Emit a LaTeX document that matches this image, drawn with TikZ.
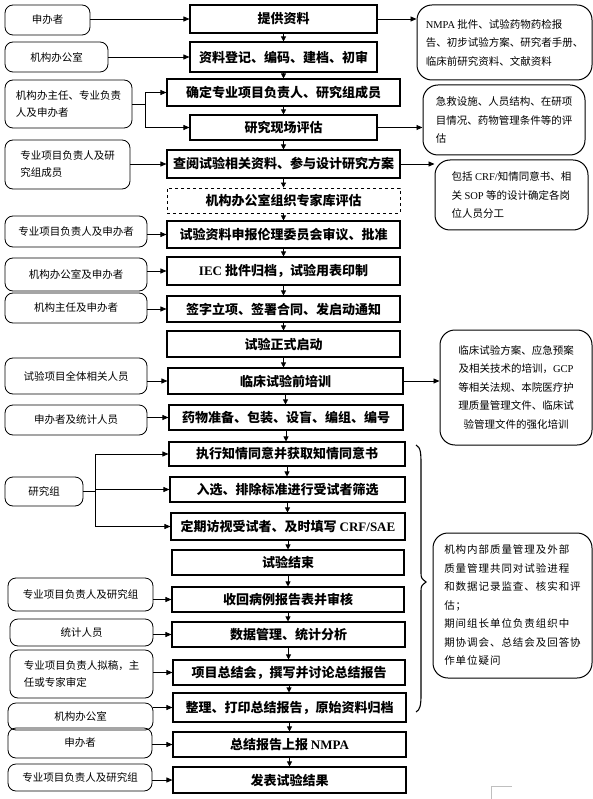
\documentclass[tikz,border=0pt]{standalone}
\usepackage{fontspec}
\setmainfont{Noto Sans CJK SC}
\newfontfamily\lat{Liberation Serif}
\newfontfamily\spaced[LetterSpace=9]{Noto Sans CJK SC}
\usetikzlibrary{arrows.meta}
\begin{document}
\begin{tikzpicture}[x=1pt,y=-1pt,
  mainbox/.style={draw, line width=1.1pt, inner sep=0pt, font=\fontsize{13}{15}\selectfont\bfseries},
  sidebox/.style={draw, rounded corners=8pt, line width=0.8pt, inner sep=0pt, align=left, font=\fontsize{10.5}{17}\selectfont},
  notebox/.style={draw, rounded corners=15pt, line width=1pt, inner sep=0pt, align=left, font=\fontsize{10.5}{18.5}\selectfont},
  arr/.style={-{Triangle[length=6pt,width=5pt]}, line width=0.8pt},
  varr/.style={-{Triangle[length=5pt,width=5pt]}, line width=0.8pt}]
\useasboundingbox (0,0) rectangle (593,799);

% main column
\node[mainbox, minimum width=187, minimum height=28] (b1) at (283.5,19) {提供资料};
\node[mainbox, minimum width=187, minimum height=30] (b2) at (283.5,57) {资料登记、编码、建档、初审};
\node[mainbox, minimum width=233, minimum height=27] (b3) at (283.5,92.5) {确定专业项目负责人、研究组成员};
\node[mainbox, minimum width=187, minimum height=25] (b4) at (283.5,127.5) {研究现场评估};
\node[mainbox, minimum width=233, minimum height=28] (b5) at (283.5,164) {查阅试验相关资料、参与设计研究方案};
\node[mainbox, dashed, line width=0.8pt, minimum width=233, minimum height=25] (b6) at (283.5,200.5) {机构办公室组织专家库评估};
\node[mainbox, minimum width=233, minimum height=27] (b7) at (283.5,234.5) {试验资料申报伦理委员会审议、批准};
\node[mainbox, minimum width=233, minimum height=28] (b8) at (283.5,271) {{\lat IEC} 批件归档，试验用表印制};
\node[mainbox, minimum width=233, minimum height=26] (b9) at (283.5,309) {签字立项、签署合同、发启动通知};
\node[mainbox, minimum width=233, minimum height=26] (b10) at (283.5,344) {试验正式启动};
\node[mainbox, minimum width=235, minimum height=26] (b11) at (285.5,381) {临床试验前培训};
\node[mainbox, minimum width=234, minimum height=25] (b12) at (286,417.5) {药物准备、包装、设盲、编组、编号};
\node[mainbox, minimum width=236, minimum height=24] (b13) at (287,454) {执行知情同意并获取知情同意书};
\node[mainbox, minimum width=235, minimum height=25] (b14) at (287.5,489.5) {入选、排除标准进行受试者筛选};
\node[mainbox, minimum width=234, minimum height=27] (b15) at (288,526.5) {定期访视受试者、及时填写 {\lat CRF/SAE}};
\node[mainbox, minimum width=232, minimum height=25] (b16) at (288,562.5) {试验结束};
\node[mainbox, minimum width=232, minimum height=25] (b17) at (288,599.5) {收回病例报告表并审核};
\node[mainbox, minimum width=233, minimum height=25] (b18) at (288.5,634.5) {数据管理、统计分析};
\node[mainbox, minimum width=232, minimum height=25] (b19) at (289,672.5) {项目总结会，撰写并讨论总结报告};
\node[mainbox, minimum width=233, minimum height=29] (b20) at (289.5,707.5) {整理、打印总结报告，原始资料归档};
\node[mainbox, minimum width=233, minimum height=25] (b21) at (289.5,744.5) {总结报告上报 {\lat NMPA}};
\node[mainbox, minimum width=233, minimum height=26] (b22) at (289.5,780) {发表试验结果};

\foreach \a/\b in {b1/b2,b2/b3,b3/b4,b4/b5,b5/b6,b6/b7,b7/b8,b8/b9,b9/b10,b10/b11,b11/b12,b12/b13,b13/b14,b14/b15,b15/b16,b16/b17,b17/b18,b18/b19,b19/b20,b20/b21,b21/b22}
  \draw[varr] (\a.south) -- (\a.south |- \b.north);

% left boxes
\node[sidebox, minimum width=85, minimum height=30] (L1) at (47.5,20) {申办者};
\node[sidebox, minimum width=103, minimum height=30] (L2) at (56.5,57) {机构办公室};
\node[sidebox, minimum width=127, minimum height=48] (L3) at (68.5,104) {机构办主任、专业负责\\人及申办者};
\node[sidebox, minimum width=125, minimum height=49] (L4) at (67.5,164.5) {专业项目负责人及研\\究组成员};
\node[sidebox, minimum width=142, minimum height=31] (L5) at (76,231.5) {专业项目负责人及申办者};
\node[sidebox, minimum width=142, minimum height=33] (L6) at (76,274.5) {机构办公室及申办者};
\node[sidebox, minimum width=142, minimum height=30] (L7) at (76,308) {机构主任及申办者};
\node[sidebox, minimum width=142, minimum height=36] (L8) at (76,376) {试验项目全体相关人员};
\node[sidebox, minimum width=142, minimum height=30] (L9) at (76,420) {申办者及统计人员};
\node[sidebox, minimum width=78, minimum height=29] (L10) at (44,491.5) {研究组};
\node[sidebox, minimum width=145, minimum height=33] (L11) at (80.5,594.5) {专业项目负责人及研究组};
\node[sidebox, minimum width=143, minimum height=27] (L12) at (81.5,632.5) {统计人员};
\node[sidebox, minimum width=143, minimum height=48] (L13) at (81.5,674) {专业项目负责人拟稿，主\\任或专家审定};
\node[sidebox, minimum width=145, minimum height=27] (L14) at (80.5,716.5) {机构办公室};
\node[sidebox, minimum width=144, minimum height=30] (L15) at (80,743) {申办者};
\node[sidebox, minimum width=144, minimum height=27] (L16) at (80,777.5) {专业项目负责人及研究组};

% left-to-main arrows
\draw[arr] (L1.east |- b1.west) -- (b1.west);
\draw[arr] (L2.east |- b2.west) -- (b2.west);
\coordinate (f1) at (145,104);
\draw[line width=0.8pt] (L3.east |- f1) -- (f1);
\draw[arr] (f1 |- b3.west) -- (b3.west);
\draw[arr] (f1 |- b4.west) -- (b4.west);
\draw[line width=0.8pt] (f1 |- b3.west) -- (f1 |- b4.west);
\draw[arr] (L4.east |- b5.west) -- (b5.west);
\draw[arr] (L5.east |- b7.west) -- (b7.west);
\draw[arr] (L6.east |- b8.west) -- (b8.west);
\draw[arr] (L7.east |- b9.west) -- (b9.west);
\draw[arr] (L8.east |- b11.west) -- (b11.west);
\draw[arr] (L9.east |- b12.west) -- (b12.west);
\coordinate (f2) at (95,491.5);
\draw[line width=0.8pt] (L10.east |- f2) -- (f2);
\draw[line width=0.8pt] (f2 |- b13.west) -- (f2 |- b15.west);
\draw[arr] (f2 |- b13.west) -- (b13.west);
\draw[arr] (f2 |- b14.west) -- (b14.west);
\draw[arr] (f2 |- b15.west) -- (b15.west);
\draw[arr] (L11.east |- b17.west) -- (b17.west);
\draw[arr] (L12.east |- b18.west) -- (b18.west);
\draw[arr] (L13.east |- b19.west) -- (b19.west);
\draw[arr] (L14.east |- b20.west) -- (b20.west);
\draw[arr] (L15.east |- b21.west) -- (b21.west);
\draw[arr] (L16.east |- b22.west) -- (b22.west);

% right boxes
\node[notebox, minimum width=175, minimum height=75] (R1) at (504.5,42.5) {{\lat NMPA} 批件、试验药物药检报\\告、初步试验方案、研究者手册、\\临床前研究资料、文献资料};
\node[notebox, minimum width=162, minimum height=70] (R2) at (504,120) {急救设施、人员结构、在研项\\目情况、药物管理条件等的评\\估};
\node[notebox, minimum width=153, minimum height=70] (R3) at (511.5,195) {包括 {\lat CRF/}知情同意书、相\\关 {\lat SOP} 等的设计确定各岗\\位人员分工};
\node[notebox, align=center, minimum width=152, minimum height=115] (R4) at (516,387.5) {临床试验方案、应急预案\\及相关技术的培训，{\lat GCP}\\等相关法规、本院医疗护\\理质量管理文件、临床试\\验管理文件的强化培训};
\node[notebox, minimum width=159, minimum height=145, font=\fontsize{10.5}{18.5}\selectfont\spaced] (R5) at (512.5,605.5) {机构内部质量管理及外部\\质量管理共同对试验进程\\和数据记录监查、核实和评\\估；\\期间组长单位负责组织中\\期协调会、总结会及回答协\\作单位疑问};

\draw[arr] (b1.east) -- (b1.east -| R1.west);
\draw[arr] (b4.east) -- (b4.east -| R2.west);
\draw[arr] (b5.east) -- (b5.east -| R3.west);
\draw[arr] (b11.east) -- (b11.east -| R4.west);

% brace
\draw[line width=1.1pt] (416,445) .. controls (421,447) and (421,455) .. (421,465) -- (421,572)
  .. controls (421,578) .. (426,582) .. controls (421,586) .. (421,592) -- (421,695)
  .. controls (421,705) and (420,710) .. (416,712);

% corner mark
\draw[gray!50, line width=0.6pt] (491,799) -- (491,786) -- (512,786);
\end{tikzpicture}
\end{document}
